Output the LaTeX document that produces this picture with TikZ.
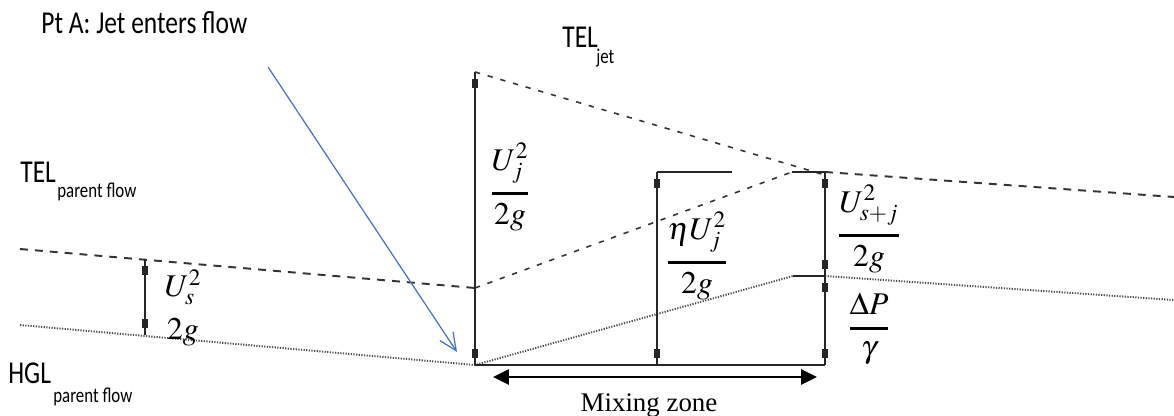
\documentclass[tikz,border=0pt]{standalone}
\usepackage{amsmath}
\usepackage{mathptmx}
\usepackage[no-math]{fontspec}
\setmainfont{Carlito}
\newfontfamily\mixfont{Liberation Serif}
\usetikzlibrary{arrows.meta,positioning}
\definecolor{ptblue}{RGB}{68,114,196}
\newcommand{\stretchtext}[1]{\scalebox{1}[1.25]{#1}}

\begin{document}
\begin{tikzpicture}[
    x=0.02cm, y=-0.02cm,
    every node/.style={inner sep=0pt},
    txt/.style={font=\fontsize{14.5}{16}\selectfont},
    subtxt/.style={font=\fontsize{9.6}{11}\selectfont},
    mathlabel/.style={font=\fontsize{18}{20}\selectfont},
    bar/.style={line width=1.1pt, draw=black!85},
    dim/.style={bar, postaction={draw,
        {Rectangle[length=5pt,width=3.6pt,sep=4pt]}-{Rectangle[length=5pt,width=3.6pt,sep=4pt]}}},
    tel/.style={line width=1.1pt, draw=black!80, dash pattern=on 4.5pt off 4pt},
    teljet/.style={line width=0.9pt, draw=black!80, dash pattern=on 3pt off 4.5pt},
    hgl/.style={line width=1.1pt, draw=black!70, dash pattern=on 0.7pt off 0.8pt},
    pointer/.style={-{Straight Barb[length=10pt,width=9pt]}, line width=0.7pt, draw=ptblue},
    span/.style={{Triangle[length=9pt,width=8.5pt]}-{Triangle[length=9pt,width=8.5pt]}, line width=1.5pt}
]
\useasboundingbox (0,0) rectangle (1174,416);

% Line end points
\coordinate (telL)    at (20,249);
\coordinate (telA)    at (475,288);
\coordinate (hglL)    at (20,325);
\coordinate (hglA)    at (475,365);
\coordinate (jetTop)  at (475,72);
\coordinate (jetEnd)  at (825,175);
\coordinate (telJR)   at (792,172);
\coordinate (mixTop)  at (825,172);
\coordinate (mixMid)  at (825,276);
\coordinate (mixBot)  at (825,365);
\coordinate (hglJ)    at (793,276);
\coordinate (telR)    at (1174,197);
\coordinate (hglR)    at (1174,300);
\coordinate (midTop)  at (657,172);
\coordinate (midBarR) at (732,172);
\coordinate (midBot)  at (657,365);
\coordinate (usTop)   at (145,259);
\coordinate (usBot)   at (145,335);
\coordinate (mixL)    at (493,377);
\coordinate (mixR)    at (817,377);
\coordinate (ptTail)  at (268,67);
\coordinate (ptTip)   at (457,352);

% Energy and hydraulic grade lines
\draw[tel] (telL) -- (telA);
\draw[tel] (mixTop) -- (telR);
\draw[teljet] (jetTop) -- (jetEnd);
\draw[teljet] (telA) -- (telJR);
\draw[hgl] (hglL) -- (hglA) -- (hglJ);
\draw[hgl] (mixMid) -- (hglR);

% Head bars
\draw[dim] (usTop) -- (usBot);
\draw[dim] (jetTop) -- (hglA);
\draw[dim] (midTop) -- (midBot);
\draw[dim] (mixTop) -- (mixMid);
\draw[dim] (mixMid) -- (mixBot);
\draw[bar] (midTop) -- (midBarR);
\draw[bar] (telJR) -- (mixTop);
\draw[bar] (hglJ) -- (mixMid);
\draw[bar] (hglA) -- (mixBot);

% Head labels
\node[mathlabel] (us)    at (183,308) {$\genfrac{}{}{0pt}{0}{U_s^2}{2g}$};
\node[mathlabel] (uj)    at (510,187) {$\genfrac{}{}{1.6pt}{0}{U_j^2}{2g}$};
\node[mathlabel] (etauj) at (697,256) {$\genfrac{}{}{1.6pt}{0}{\eta U_j^2}{2g}$};
\node[mathlabel] (usj)   at (869,229) {$\genfrac{}{}{1.6pt}{0}{U_{s+j}^2}{2g}$};
\node[mathlabel] (dp)    at (869,329) {$\genfrac{}{}{1.6pt}{0}{\Delta P}{\gamma}$};

% Line names
\node[txt, anchor=base west]    (ptA)       at (41,33)  {\stretchtext{Pt A: Jet enters flow}};
\node[txt, anchor=base west]    (teljetlbl) at (562,47) {\stretchtext{TEL}};
\node[subtxt, anchor=base west] (jetsub)    at (596,63) {\stretchtext{jet}};
\node[txt, anchor=base west]    (telpar)    at (20,182) {\stretchtext{TEL}};
\node[subtxt, anchor=base west] (telparsub) at (57,197) {\stretchtext{parent flow}};
\node[txt, anchor=base west]    (hglpar)    at (8,383)  {\stretchtext{HGL}};
\node[subtxt, anchor=base west] (hglparsub) at (53,402) {\stretchtext{parent flow}};

% Jet entry pointer and mixing zone
\draw[pointer] (ptTail) -- (ptTip);
\draw[span] (mixL) -- (mixR);
\node[font=\mixfont\fontsize{15.3}{17}\selectfont, anchor=base] (mixlbl) at (649,411) {Mixing zone};

\end{tikzpicture}
\end{document}
